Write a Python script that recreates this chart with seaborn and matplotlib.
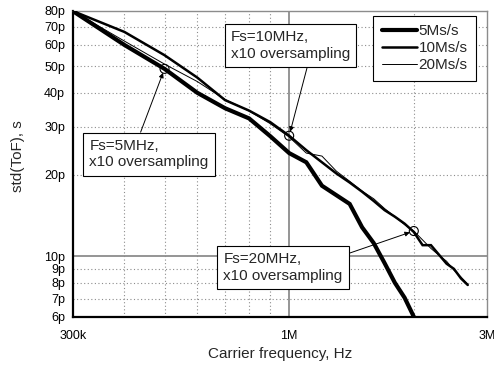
import numpy as np
import pandas as pd
import seaborn as sns
import matplotlib
matplotlib.use("Agg")
import matplotlib.pyplot as plt
from matplotlib.ticker import FixedLocator, FixedFormatter, NullFormatter

# Carrier frequencies (Hz)
freq_5 = [3e5, 4e5, 5e5, 6e5, 7e5, 8e5, 9e5, 1.0e6, 1.1e6, 1.2e6, 1.3e6,
          1.4e6, 1.5e6, 1.6e6, 1.7e6, 1.8e6, 1.9e6, 2.0e6]
freq_10 = [3e5, 4e5, 5e5, 6e5, 7e5, 8e5, 9e5, 1.0e6, 1.1e6, 1.2e6, 1.3e6,
           1.4e6, 1.5e6, 1.6e6, 1.7e6, 1.8e6, 1.9e6, 2.0e6, 2.1e6, 2.2e6,
           2.3e6, 2.4e6, 2.5e6, 2.6e6, 2.7e6]
freq_20 = list(freq_10)

# Standard deviation of time-of-flight (ps)
std_5 = [80, 60, 49, 40, 35.1, 32.2, 27.7, 24.0, 22.2, 18.2, 16.8,
         15.6, 12.8, 11.2, 9.45, 8.0, 7.05, 6.0]
std_10 = [80, 67, 55, 45.5, 37.6, 34.4, 31.2, 27.8, 24.6, 22.2, 20.2,
          18.7, 17.3, 16.0, 14.8, 14.0, 13.2, 12.3, 11.0, 11.0,
          10.15, 9.4, 9.0, 8.3, 7.85]
std_20 = [80, 62, 51, 44, 37.8, 34.3, 30.8, 27.5, 24.0, 23.4, 20.6,
          18.9, 17.4, 16.3, 15.0, 14.0, 13.1, 12.4, 11.5, 10.7,
          10.1, 9.6, 8.9, 8.4, 7.9]

series_names = ["5Ms/s", "10Ms/s", "20Ms/s"]

x_tick_vals = [3e5, 1e6, 3e6]
x_tick_labels = ["300k", "1M", "3M"]
y_tick_vals = [6e-12, 7e-12, 8e-12, 9e-12, 1e-11, 2e-11, 3e-11, 4e-11,
               5e-11, 6e-11, 7e-11, 8e-11]
y_tick_labels = ["6p", "7p", "8p", "9p", "10p", "20p", "30p", "40p",
                 "50p", "60p", "70p", "80p"]

ann_texts = ["Fs=5MHz,\nx10 oversampling",
             "Fs=10MHz,\nx10 oversampling",
             "Fs=20MHz,\nx10 oversampling"]

sns.set_style("white")
plt.rcParams["font.family"] = ["Liberation Sans", "DejaVu Sans"]

df = pd.concat([
    pd.DataFrame({"freq": freq_5, "std": np.array(std_5) * 1e-12, "series": series_names[0]}),
    pd.DataFrame({"freq": freq_10, "std": np.array(std_10) * 1e-12, "series": series_names[1]}),
    pd.DataFrame({"freq": freq_20, "std": np.array(std_20) * 1e-12, "series": series_names[2]}),
], ignore_index=True)

fig = plt.figure(figsize=(4.94, 3.67), dpi=100)
ax = fig.add_axes([72.7 / 494, 50.3 / 367, 414 / 494, 305.7 / 367])
ax.set_xscale("log")
ax.set_yscale("log")
ax.set_xlim(3e5, 3e6)
ax.set_ylim(6e-12, 8e-11)

# reference grid: dotted minor lines, solid gray decade lines
grid_gray = "#8c8c8c"
for xv in [4e5, 5e5, 6e5, 7e5, 8e5, 9e5, 2e6]:
    ax.axvline(xv, color=grid_gray, lw=0.8, ls=(0, (1, 2.2)), zorder=0)
for yv in [7e-12, 8e-12, 9e-12, 2e-11, 3e-11, 4e-11, 5e-11, 6e-11, 7e-11]:
    ax.axhline(yv, color=grid_gray, lw=0.8, ls=(0, (1, 2.2)), zorder=0)
ax.axvline(1e6, color=grid_gray, lw=1.3, zorder=0)
ax.axhline(1e-11, color=grid_gray, lw=1.3, zorder=0)

widths = {"5Ms/s": 3.0, "10Ms/s": 1.8, "20Ms/s": 0.7}
for name in series_names:
    sub = df[df["series"] == name]
    sns.lineplot(data=sub, x="freq", y="std", ax=ax, color="black",
                 lw=widths[name], label=name, estimator=None, sort=True,
                 solid_joinstyle="miter", zorder=3)

ax.xaxis.set_major_locator(FixedLocator(x_tick_vals))
ax.xaxis.set_major_formatter(FixedFormatter(x_tick_labels))
ax.xaxis.set_minor_locator(FixedLocator([4e5, 5e5, 6e5, 7e5, 8e5, 9e5, 2e6]))
ax.xaxis.set_minor_formatter(NullFormatter())
ax.yaxis.set_major_locator(FixedLocator(y_tick_vals))
ax.yaxis.set_major_formatter(FixedFormatter(y_tick_labels))
ax.yaxis.set_minor_locator(FixedLocator([]))

ax.tick_params(axis="both", which="both", direction="inout", length=5,
               width=0.8, color="black", labelsize=9, labelcolor="black")
ax.tick_params(axis="x", which="both", pad=7)
ax.tick_params(axis="y", which="both", pad=3)

for side in ["left", "bottom"]:
    ax.spines[side].set_color("black")
    ax.spines[side].set_linewidth(1.6)
for side in ["top", "right"]:
    ax.spines[side].set_color(grid_gray)
    ax.spines[side].set_linewidth(1.0)

ax.set_xlabel("Carrier frequency, Hz", fontsize=11)
ax.set_ylabel("std(ToF), s", fontsize=11)
ax.xaxis.set_label_coords(0.5, -0.098)
ax.yaxis.set_label_coords(-0.115, 0.526)

# highlighted operating points (10x oversampling)
pts = [(freq_5[2], std_5[2] * 1e-12),
       (freq_10[7], std_10[7] * 1e-12),
       (freq_20[17], std_20[17] * 1e-12)]
ax.scatter([p[0] for p in pts], [p[1] for p in pts], s=42, facecolors="none",
           edgecolors="black", linewidths=0.8, zorder=4)

text_pos = [(0.184, 0.532), (0.526, 0.887), (0.508, 0.161)]
rel_pos = [(0.41, 1.0), (0.654, 0.0), (1.0, 0.89)]
for txt, pt, tp, rp in zip(ann_texts, pts, text_pos, rel_pos):
    ax.annotate(txt, xy=pt, xycoords="data", xytext=tp, textcoords="axes fraction",
                ha="center", va="center", multialignment="left",
                fontsize=11, linespacing=1.25,
                bbox=dict(boxstyle="square,pad=0.4", fc="white", ec="black", lw=0.8),
                arrowprops=dict(arrowstyle="-|>", color="black", lw=0.7,
                                mutation_scale=7, shrinkA=0, shrinkB=3,
                                relpos=rp),
                zorder=5)

leg = ax.legend(loc="upper right", bbox_to_anchor=(0.974, 0.984),
                bbox_transform=ax.transAxes, borderaxespad=0, fontsize=11,
                frameon=True, fancybox=False, framealpha=1, edgecolor="black",
                handlelength=2.3, handletextpad=0.1, labelspacing=0.2,
                borderpad=0.55)
leg.get_frame().set_linewidth(0.8)
leg.set_zorder(6)

fig.savefig("out.png", dpi=100)
